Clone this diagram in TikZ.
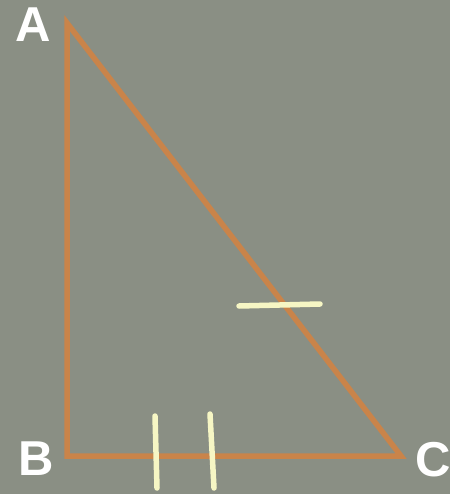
\documentclass[tikz,border=0pt]{standalone}
\usepackage{fontspec}
\setmainfont{Liberation Sans}
\definecolor{bg}{HTML}{8A8F84}
\definecolor{edge}{HTML}{C9844A}
\definecolor{tick}{HTML}{F6F6C4}
\tikzset{
  side/.style={draw=edge, line width=5.5pt, line join=miter},
  tickmark/.style={draw=tick, line width=5.5pt, line cap=round},
  lbl/.style={text=white, font=\fontsize{49}{49}\selectfont\bfseries, inner sep=0pt}
}
\begin{document}
\begin{tikzpicture}[x=1pt,y=-1pt]
\fill[bg] (0,0) rectangle (450,494);
\useasboundingbox (0,0) rectangle (450,494);
\coordinate (A) at (67,23);
\coordinate (B) at (67,456);
\coordinate (C) at (401,456);
\draw[side] (A) -- (B) -- (C) -- cycle;
\coordinate (t1a) at (239,306);
\coordinate (t1b) at (320,304);
\draw[tickmark] (t1a) -- (t1b);
\coordinate (t2a) at (155,416);
\coordinate (t2b) at (157,488);
\draw[tickmark] (t2a) -- (t2b);
\coordinate (t3a) at (210,414);
\coordinate (t3b) at (214,488);
\draw[tickmark] (t3a) -- (t3b);
\node[lbl] (la) at (33,25) {A};
\node[lbl] (lb) at (36,459) {B};
\node[lbl] (lc) at (433,460) {C};
\end{tikzpicture}
\end{document}
